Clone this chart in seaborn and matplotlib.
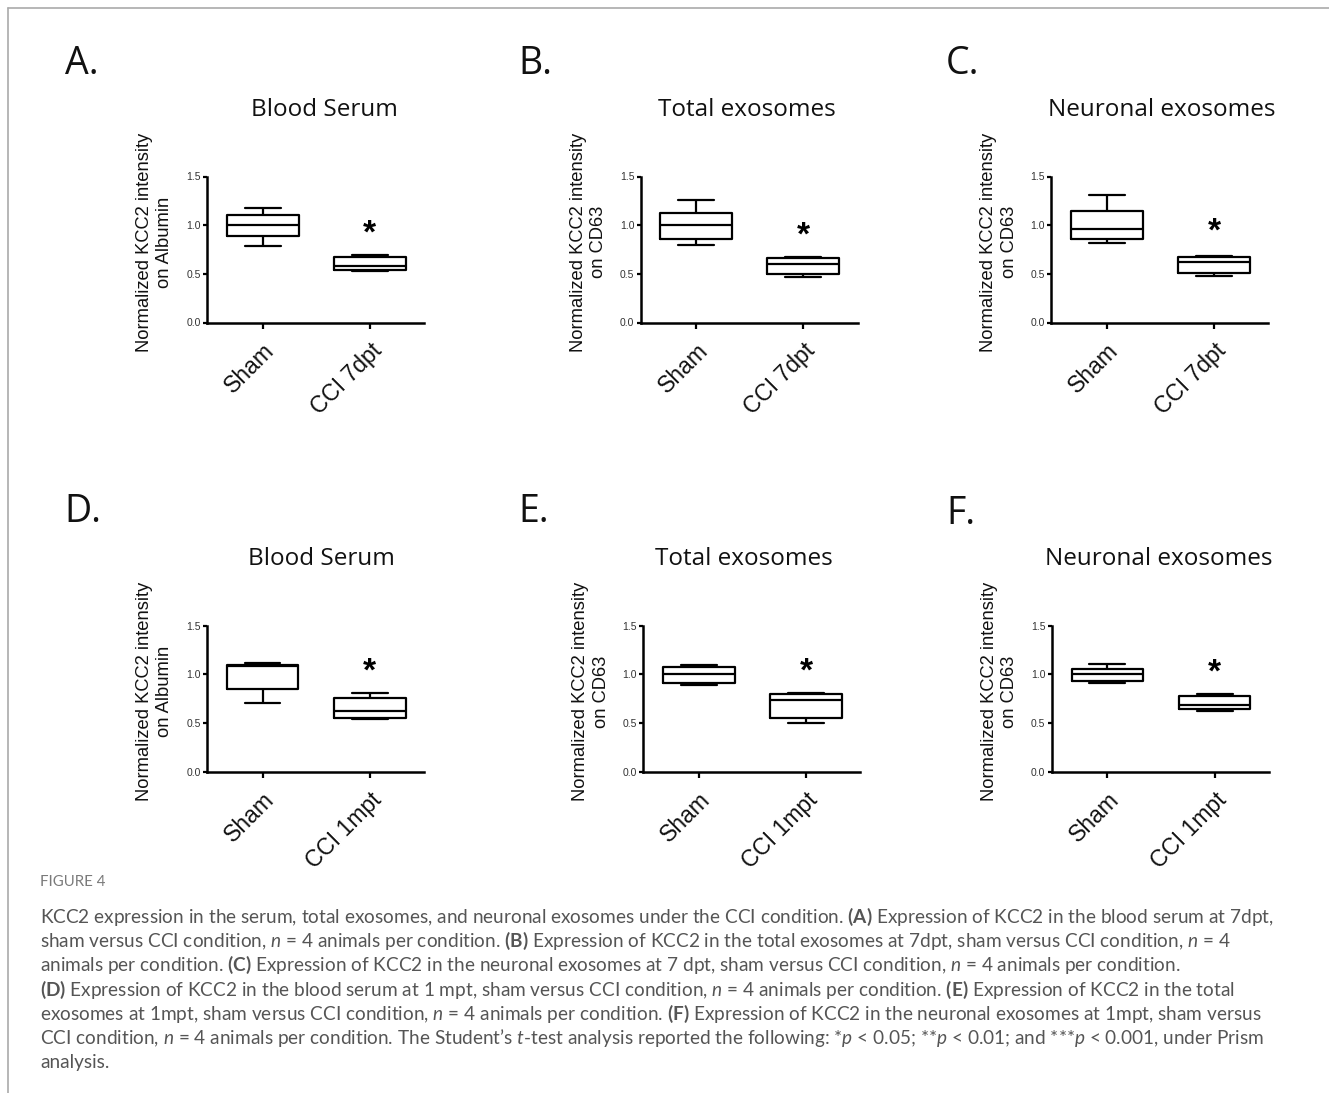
import numpy as np
import pandas as pd
import matplotlib
matplotlib.use("Agg")
import matplotlib.pyplot as plt
import matplotlib.transforms as mtransforms
import seaborn as sns
from matplotlib.lines import Line2D

# ---------------- data (box summaries: min, q1, median, q3, max)
groups_7dpt = ["Sham", "CCI 7dpt"]
groups_1mpt = ["Sham", "CCI 1mpt"]

A_sham = [0.79, 0.89, 1.00, 1.10, 1.18]
A_cci = [0.525, 0.54, 0.58, 0.67, 0.69]
B_sham = [0.80, 0.86, 1.00, 1.13, 1.26]
B_cci = [0.47, 0.50, 0.605, 0.66, 0.67]
C_sham = [0.815, 0.855, 0.965, 1.145, 1.31]
C_cci = [0.48, 0.51, 0.625, 0.67, 0.685]
D_sham = [0.71, 0.85, 1.09, 1.10, 1.115]
D_cci = [0.54, 0.555, 0.62, 0.76, 0.805]
E_sham = [0.895, 0.915, 1.00, 1.075, 1.095]
E_cci = [0.50, 0.55, 0.74, 0.795, 0.805]
F_sham = [0.915, 0.935, 1.00, 1.06, 1.105]
F_cci = [0.625, 0.64, 0.69, 0.78, 0.80]

star_y = [0.96, 0.94, 0.98, 1.07, 1.07, 1.06]
panel_letters = ["A.", "B.", "C.", "D.", "E.", "F."]
panel_titles = ["Blood Serum", "Total exosomes", "Neuronal exosomes",
                "Blood Serum", "Total exosomes", "Neuronal exosomes"]
ylabels = ["Normalized KCC2 intensity\non Albumin", "Normalized KCC2 intensity\non CD63",
           "Normalized KCC2 intensity\non CD63", "Normalized KCC2 intensity\non Albumin",
           "Normalized KCC2 intensity\non CD63", "Normalized KCC2 intensity\non CD63"]
yticks = [0.0, 0.5, 1.0, 1.5]
ytick_labels = ["0.0", "0.5", "1.0", "1.5"]

caption_head = "FIGURE 4"
caption_lines = [
    r"KCC2 expression in the serum, total exosomes, and neuronal exosomes under the CCI condition. $\mathbf{(A)}$ Expression of KCC2 in the blood serum at 7dpt,",
    r"sham versus CCI condition, $n$ = 4 animals per condition. $\mathbf{(B)}$ Expression of KCC2 in the total exosomes at 7dpt, sham versus CCI condition, $n$ = 4",
    r"animals per condition. $\mathbf{(C)}$ Expression of KCC2 in the neuronal exosomes at 7 dpt, sham versus CCI condition, $n$ = 4 animals per condition.",
    r"$\mathbf{(D)}$ Expression of KCC2 in the blood serum at 1 mpt, sham versus CCI condition, $n$ = 4 animals per condition. $\mathbf{(E)}$ Expression of KCC2 in the total",
    r"exosomes at 1mpt, sham versus CCI condition, $n$ = 4 animals per condition. $\mathbf{(F)}$ Expression of KCC2 in the neuronal exosomes at 1mpt, sham versus",
    r"CCI condition, $n$ = 4 animals per condition. The Student’s $t$-test analysis reported the following: *$p$ < 0.05; **$p$ < 0.01; and ***$p$ < 0.001, under Prism",
    r"analysis.",
]

panels = [
    (groups_7dpt, A_sham, A_cci),
    (groups_7dpt, B_sham, B_cci),
    (groups_7dpt, C_sham, C_cci),
    (groups_1mpt, D_sham, D_cci),
    (groups_1mpt, E_sham, E_cci),
    (groups_1mpt, F_sham, F_cci),
]

# ---------------- style
sns.set_theme(style="ticks")
plt.rcParams["font.family"] = ["Liberation Sans", "DejaVu Sans"]
plt.rcParams["mathtext.fontset"] = "custom"
plt.rcParams["mathtext.rm"] = "Lato"
plt.rcParams["mathtext.it"] = "Lato:italic"
plt.rcParams["mathtext.bf"] = "Lato:bold"

W, H = 1329, 1093
fig = plt.figure(figsize=(W / 100, H / 100), dpi=100)

# axes geometry in pixels: (left x, y of zero line)
ax_px = [(207, 322.5), (640.5, 322.5), (1051.3, 322.5),
         (206.8, 771.7), (643.3, 771.7), (1051.7, 771.7)]
ax_w, ax_h = 217, 146
letter_px = [(65, 74), (518, 74), (946, 74), (64, 522), (518, 522), (946, 524)]
title_px = [(324, 116), (747, 116), (1162, 116), (321, 565), (744, 565), (1159, 565)]

for i, (groups, sham, cci) in enumerate(panels):
    x0, y0 = ax_px[i]
    ax = fig.add_axes([x0 / W, 1 - y0 / H, ax_w / W, ax_h / H])
    df = pd.DataFrame({
        "group": [groups[0]] * len(sham) + [groups[1]] * len(cci),
        "value": sham + cci,
    })
    sns.boxplot(data=df, x="group", y="value", order=groups, whis=(0, 100),
                width=0.67, fill=False, color="black", linewidth=1.6,
                showfliers=False, ax=ax)
    ax.set_xlim(-0.52, 1.505)
    ax.set_ylim(0, 1.5)
    ax.set_yticks(yticks)
    ax.set_yticklabels(ytick_labels, fontsize=7.5, color="#333333")
    ax.set_xticks([0, 1])
    ax.set_xticklabels(groups, fontsize=16.5, rotation=45, ha="right",
                       rotation_mode="anchor", color="#111111")
    shift = mtransforms.ScaledTranslation(-8 / 100, -2 / 100, fig.dpi_scale_trans)
    for lab in ax.get_xticklabels():
        lab.set_transform(lab.get_transform() + shift)
    ax.tick_params(axis="y", length=3, width=1.6, pad=1.5, color="black")
    ax.tick_params(axis="x", length=4, width=1.6, pad=8, color="black")
    for s in ["top", "right"]:
        ax.spines[s].set_visible(False)
    for s in ["left", "bottom"]:
        ax.spines[s].set_linewidth(1.8)
        ax.spines[s].set_color("black")
    ax.set_xlabel("")
    ax.set_ylabel(ylabels[i], fontsize=13.2, color="#111111", linespacing=1.25)
    ax.yaxis.set_label_coords(-0.155, 0.55)
    star_shift = mtransforms.ScaledTranslation(0, -5 / 100, fig.dpi_scale_trans)
    ax.text(1, star_y[i], "*", ha="center", va="center", fontsize=24,
            fontweight="bold", color="black",
            transform=ax.transData + star_shift)
    lx, ly = letter_px[i]
    fig.text(lx / W, 1 - ly / H, panel_letters[i], fontsize=27,
             family=["Open Sans", "DejaVu Sans"], va="baseline", ha="left",
             color="#111111")
    tx, ty = title_px[i]
    fig.text(tx / W, 1 - ty / H, panel_titles[i],
             fontsize=17.5, family=["Open Sans", "DejaVu Sans"], va="baseline",
             ha="center", color="#111111")

# caption
fig.text(40 / W, 1 - 886 / H, caption_head, fontsize=10.8,
         family=["Lato", "DejaVu Sans"], color="#7a7a7a", va="baseline")
for k, line in enumerate(caption_lines):
    fig.text(40 / W, 1 - (923 + 24.2 * k) / H, line, fontsize=13.7,
             family=["Lato", "DejaVu Sans"], color="#555555", va="baseline")

# frame lines
fig.add_artist(Line2D([8 / W, 1], [1 - 8 / H, 1 - 8 / H], color="#aaaaaa",
                      lw=1.2, transform=fig.transFigure))
fig.add_artist(Line2D([8 / W, 8 / W], [0, 1 - 8 / H], color="#aaaaaa",
                      lw=1.2, transform=fig.transFigure))

fig.savefig("out.png", dpi=100, facecolor="white")
